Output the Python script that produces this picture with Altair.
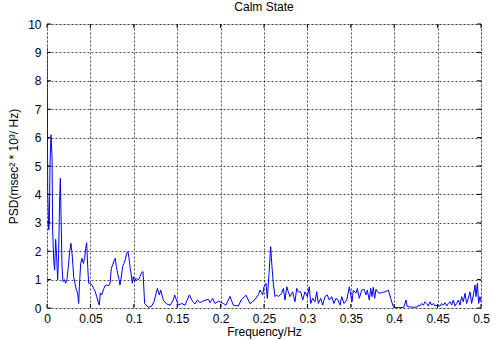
import altair as alt
import pandas as pd

freq = [0.0, 0.0005, 0.0008, 0.002, 0.0027, 0.0035, 0.0046, 0.0058, 0.0065, 0.0077,
        0.0088, 0.010, 0.0111, 0.0123, 0.0134, 0.0146, 0.0154, 0.0161, 0.0173, 0.0184,
        0.020, 0.0215, 0.023, 0.0246, 0.0261, 0.0276, 0.0292, 0.0307, 0.0322, 0.0338,
        0.0353, 0.0365, 0.0373, 0.0388, 0.0403, 0.0419, 0.0434, 0.0445, 0.0457, 0.0469,
        0.048, 0.0499, 0.0518, 0.0537, 0.0556, 0.0572, 0.059, 0.0603, 0.0614, 0.063,
        0.0649, 0.0668, 0.0687, 0.0707, 0.0726, 0.0741, 0.0757, 0.0776, 0.0787, 0.0799,
        0.0814, 0.083, 0.0841, 0.0856, 0.0872, 0.0887, 0.0902, 0.0918, 0.0933, 0.0945,
        0.0956, 0.0971, 0.0983, 0.0994, 0.1009, 0.1025, 0.104, 0.1056, 0.1071, 0.109,
        0.1106, 0.1125, 0.1167, 0.1206, 0.1233, 0.1271, 0.1294, 0.131, 0.134, 0.1379,
        0.1417, 0.1455, 0.1471, 0.1513, 0.1552, 0.159, 0.164, 0.1679, 0.1705, 0.1732,
        0.1763, 0.1801, 0.1858, 0.1878, 0.1909, 0.1935, 0.1974, 0.2031, 0.2062, 0.2108,
        0.2146, 0.2204, 0.2243, 0.2293, 0.2339, 0.2396, 0.2434, 0.2454, 0.2485, 0.2500,
        0.2523, 0.2538, 0.2558, 0.2577, 0.2592, 0.2607, 0.2627, 0.2646, 0.2665, 0.2704,
        0.2723, 0.2742, 0.2762, 0.2780, 0.2800, 0.2830, 0.2857, 0.2877, 0.2895, 0.2923,
        0.2946, 0.2972, 0.2999, 0.3022, 0.3038, 0.3061, 0.3088, 0.3107, 0.3126, 0.3153,
        0.3176, 0.3203, 0.3229, 0.3252, 0.3280, 0.3306, 0.3329, 0.3353, 0.3376, 0.3395,
        0.3422, 0.3453, 0.3483, 0.3499, 0.3514, 0.3529, 0.3560, 0.3575, 0.3598, 0.3626,
        0.3652, 0.3675, 0.3690, 0.3713, 0.3729, 0.3744, 0.3759, 0.3775, 0.3790, 0.3806,
        0.3829, 0.3856, 0.3894, 0.3921, 0.3932, 0.3960, 0.3983, 0.3998, 0.405, 0.411,
        0.4136, 0.415, 0.420, 0.426, 0.4278, 0.4297, 0.4316, 0.4336, 0.4355, 0.4374,
        0.4393, 0.4412, 0.4432, 0.4451, 0.447, 0.4497, 0.4528, 0.4547, 0.4566, 0.4585,
        0.4605, 0.4624, 0.4643, 0.4662, 0.4681, 0.470, 0.472, 0.4739, 0.4758, 0.4777,
        0.4796, 0.4816, 0.4835, 0.4854, 0.4873, 0.4892, 0.4912, 0.4931, 0.4942, 0.4958,
        0.4973, 0.4988, 0.500]

psd = [9.2, 7.0, 4.15, 2.75, 3.1, 5.1, 6.1, 5.33, 2.75, 1.7,
       1.34, 2.42, 1.8, 1.0, 1.93, 3.92, 4.57, 3.34, 1.46, 0.93,
       1.0, 0.87, 1.0, 1.46, 1.98, 2.28, 1.8, 1.1, 0.87, 0.64,
       0.53, 0.16, 0.76, 1.57, 1.75, 1.57, 1.75, 2.1, 2.3, 1.46,
       0.87, 0.87, 0.81, 0.69, 0.58, 0.4, 0.22, 0.1, 0.53, 0.46,
       0.64, 0.78, 0.81, 0.78, 0.87, 1.4, 1.52, 1.7, 1.75, 1.46,
       1.22, 1.0, 0.81, 1.1, 1.46, 1.57, 1.7, 1.93, 1.98, 1.75,
       1.46, 1.16, 0.87, 1.1, 0.93, 1.05, 1.0, 1.0, 1.1, 1.25,
       1.28, 0.16, 0.02, 0.07, 0.22, 0.69, 0.46, 0.63, 0.28, 0.14,
       0.1, 0.28, 0.46, 0.1, 0.16, 0.1, 0.46, 0.22, 0.14, 0.28,
       0.19, 0.25, 0.31, 0.19, 0.34, 0.16, 0.24, 0.16, 0.1, 0.41,
       0.1, 0.07, 0.31, 0.45, 0.15, 0.3, 0.46, 0.63, 0.46, 0.75,
       0.87, 0.34, 1.22, 2.16, 1.45, 0.87, 0.4, 0.46, 0.4, 0.52,
       0.69, 0.28, 0.75, 0.57, 0.4, 0.57, 0.22, 0.69, 0.57, 0.57,
       0.28, 0.57, 0.4, 0.75, 0.16, 0.34, 0.22, 0.57, 0.16, 0.34,
       0.1, 0.4, 0.46, 0.28, 0.4, 0.16, 0.34, 0.28, 0.1, 0.4,
       0.16, 0.28, 0.75, 0.46, 0.22, 0.63, 0.52, 0.69, 0.34, 0.63,
       0.66, 0.46, 0.63, 0.28, 0.69, 0.4, 0.73, 0.34, 0.66, 0.57,
       0.52, 0.54, 0.57, 0.61, 0.63, 0.34, 0.1, 0.02, 0.02, 0.02,
       0.28, 0.05, 0.03, 0.03, 0.1, 0.07, 0.16, 0.1, 0.22, 0.16,
       0.07, 0.22, 0.1, 0.16, 0.07, 0.1, 0.07, 0.16, 0.1, 0.19,
       0.07, 0.16, 0.22, 0.1, 0.28, 0.07, 0.16, 0.28, 0.1, 0.4,
       0.22, 0.52, 0.16, 0.34, 0.57, 0.16, 0.46, 0.81, 0.4, 0.87,
       0.16, 0.4, 0.22]

x_ticks = [0, 0.05, 0.1, 0.15, 0.2, 0.25, 0.3, 0.35, 0.4, 0.45, 0.5]
y_ticks = [0, 1, 2, 3, 4, 5, 6, 7, 8, 9, 10]

df = pd.DataFrame({"f": freq, "p": psd})
xt = pd.DataFrame({"t": x_ticks})
yt = pd.DataFrame({"t": y_ticks})

FONT = "Liberation Sans"
W, H = 434, 284
TL = 4

xscale = alt.Scale(domain=[0, 0.5], nice=False)
yscale = alt.Scale(domain=[0, 10], nice=False)

xaxis = alt.Axis(values=x_ticks, format="~g", title="Frequency/Hz",
                 grid=True, gridColor="#000000", gridDash=[2, 2], gridOpacity=0.7,
                 domain=False, ticks=False, labelPadding=5, labelOverlap=False,
                 labelFont=FONT, labelFontSize=12, labelColor="#000",
                 titleFont=FONT, titleFontSize=12, titleFontWeight="normal",
                 titleColor="#000", titlePadding=2, labelFlush=False)
yaxis = alt.Axis(values=y_ticks, title="PSD(msec² * 10³/ Hz)",
                 grid=True, gridColor="#000000", gridDash=[2, 2], gridOpacity=0.7,
                 domain=False, ticks=False, labelPadding=6, labelOverlap=False,
                 labelFont=FONT, labelFontSize=12, labelColor="#000",
                 titleFont=FONT, titleFontSize=12, titleFontWeight="normal",
                 titleColor="#000", titlePadding=7, labelFlush=False)

line = alt.Chart(df).mark_line(color="#0000ff", strokeWidth=1, clip=True).encode(
    x=alt.X("f:Q", scale=xscale, axis=xaxis, title="Frequency/Hz"),
    y=alt.Y("p:Q", scale=yscale, axis=yaxis, title="PSD(msec² * 10³/ Hz)"),
)

tick_style = dict(color="#000000", strokeWidth=1)
xb = alt.Chart(xt).mark_rule(**tick_style).encode(
    x=alt.X("t:Q", scale=xscale, axis=xaxis, title="Frequency/Hz"),
    y=alt.value(H), y2=alt.value(H - TL))
xtop = alt.Chart(xt).mark_rule(**tick_style).encode(
    x=alt.X("t:Q", scale=xscale, axis=xaxis, title="Frequency/Hz"),
    y=alt.value(0), y2=alt.value(TL))
yl = alt.Chart(yt).mark_rule(**tick_style).encode(
    y=alt.Y("t:Q", scale=yscale, axis=yaxis, title="PSD(msec² * 10³/ Hz)"),
    x=alt.value(0), x2=alt.value(TL))
yr = alt.Chart(yt).mark_rule(**tick_style).encode(
    y=alt.Y("t:Q", scale=yscale, axis=yaxis, title="PSD(msec² * 10³/ Hz)"),
    x=alt.value(W), x2=alt.value(W - TL))

chart = alt.layer(line, xb, xtop, yl, yr).properties(
    width=W, height=H,
    title=alt.TitleParams("Calm State", font=FONT, fontSize=12, fontWeight="normal",
                          color="#000", offset=4),
    autosize=alt.AutoSizeParams(type="none"),
    padding={"left": 47, "top": 24, "right": 11, "bottom": 32},
).configure_view(stroke="#000000", strokeWidth=1).configure(background="white")

chart.save("out.html", embed_options={"renderer": "svg", "actions": False})
